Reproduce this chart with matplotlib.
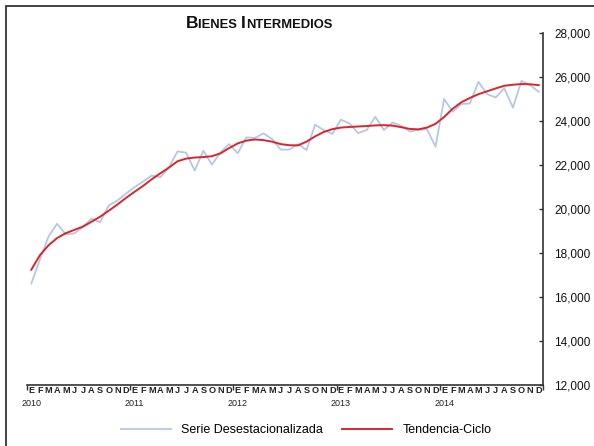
import matplotlib
matplotlib.use("Agg")
import matplotlib.pyplot as plt
from matplotlib.patches import Rectangle

plt.rcParams['font.family'] = ['Liberation Sans', 'DejaVu Sans']

years = ["2010", "2011", "2012", "2013", "2014"]
month_letters = ["E", "F", "M", "A", "M", "J", "J", "A", "S", "O", "N", "D"]

serie = [16610, 17700, 18750, 19330, 18845, 18890, 19175, 19570, 19400, 20160, 20380, 20700,
         20990, 21250, 21520, 21440, 21890, 22620, 22560, 21750, 22650, 22020, 22575, 22950,
         22530, 23255, 23230, 23435, 23180, 22700, 22700, 22950, 22680, 23830, 23590, 23410,
         24060, 23890, 23450, 23590, 24190, 23590, 23930, 23780, 23525, 23590, 23635, 22830,
         25000, 24420, 24770, 24800, 25780, 25220, 25070, 25490, 24610, 25825, 25630, 25330]

tendencia = [17240, 17900, 18350, 18680, 18900, 19050, 19200, 19420, 19650, 19920, 20200, 20500,
             20780, 21050, 21350, 21620, 21880, 22170, 22290, 22340, 22360, 22400, 22530, 22770,
             22980, 23110, 23160, 23130, 23060, 22950, 22900, 22890, 23060, 23300, 23500, 23630,
             23700, 23730, 23750, 23770, 23800, 23810, 23790, 23720, 23640, 23620, 23700, 23870,
             24180, 24560, 24850, 25050, 25220, 25350, 25480, 25600, 25650, 25680, 25670, 25630]

W, H = 594, 446
fig = plt.figure(figsize=(W / 100, H / 100), dpi=100)
fig.patch.set_facecolor("white")

ax = fig.add_axes([27 / W, 1 - 385 / H, 516 / W, (385 - 33) / H])
x = list(range(len(serie)))
ax.plot(x, serie, color="#b4c8e6", lw=1.3, label="Serie Desestacionalizada")
ax.plot(x, tendencia, color="#d8262c", lw=1.4, label="Tendencia-Ciclo")

ax.set_xlim(-0.5, len(serie) - 0.5)
ax.set_ylim(12000, 28000)

for s in ["left", "top"]:
    ax.spines[s].set_visible(False)
for s in ["right", "bottom"]:
    ax.spines[s].set_color("#333333")
    ax.spines[s].set_linewidth(1.2)

ax.yaxis.tick_right()
ax.set_yticks(range(12000, 28001, 2000))
ax.set_yticklabels([f"{v:,}" for v in range(12000, 28001, 2000)])
ax.tick_params(axis="y", direction="in", length=3, width=1, color="#333333",
               pad=8, labelsize=8.5, labelcolor="#111111")

# x axis: year-boundary ticks, month letters at category centres
ax.set_xticks([12 * k - 0.5 for k in range(len(years) + 1)])
ax.set_xticklabels([])
ax.tick_params(axis="x", which="major", direction="out", length=3.5, width=1, color="#333333")
ax.set_xticks(x, minor=True)
ax.set_xticklabels([month_letters[i % 12] for i in x], minor=True)
ax.tick_params(axis="x", which="minor", length=0, pad=1, labelsize=6.6)
for lbl in ax.get_xticklabels(minor=True):
    lbl.set_fontweight("bold")
    lbl.set_color("#222222")

for k, yr in enumerate(years):
    ax.annotate(yr, xy=(12 * k, 0), xycoords=("data", "axes fraction"),
                xytext=(0, -10), textcoords="offset points",
                ha="center", va="top", fontsize=6.5, color="#222222")

# title in small caps
pieces = [("B", 12.5), ("IENES ", 9.4), ("I", 12.5), ("NTERMEDIOS", 9.4)]
fig.canvas.draw()
renderer = fig.canvas.get_renderer()
widths = []
for txt, fs in pieces:
    t = fig.text(0, 0, txt, fontsize=fs, fontweight="bold")
    widths.append(t.get_window_extent(renderer).width)
    t.remove()
total = sum(widths)
cx = 259
xpos = cx - total / 2
for (txt, fs), w in zip(pieces, widths):
    fig.text(xpos / W, 1 - 27.5 / H, txt, fontsize=fs, fontweight="bold",
             ha="left", va="baseline", color="#111111")
    xpos += w

leg = fig.legend(loc="center", bbox_to_anchor=(306 / W, 1 - 430 / H), ncol=2,
                 frameon=False, fontsize=9, handlelength=4, handletextpad=0.8,
                 columnspacing=1.6)

# outer border of the chart area
fig.add_artist(Rectangle((5.5 / W, -0.1), 1.2, (H - 6) / H + 0.1, transform=fig.transFigure,
                         fill=False, edgecolor="#222222", lw=1.2))

fig.savefig("out.png", dpi=100)
